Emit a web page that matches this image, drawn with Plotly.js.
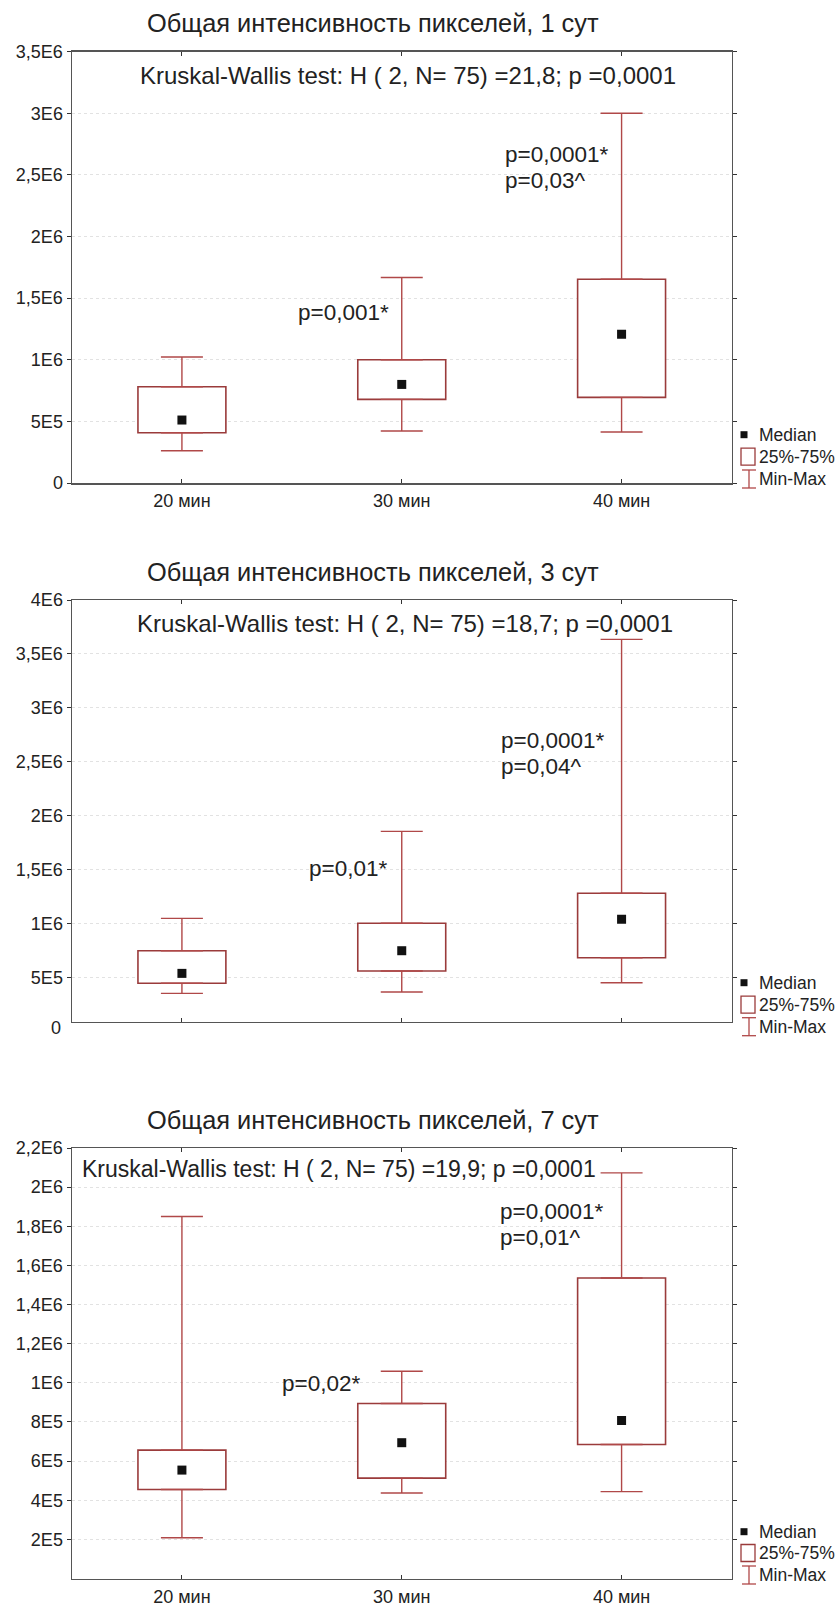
<!DOCTYPE html>
<html>
<head>
<meta charset="utf-8">
<script src="https://cdn.plot.ly/plotly-3.0.1.min.js"></script>
<style>html,body{margin:0;padding:0;background:#fff;}#chart{width:840px;height:1607px;}</style>
</head>
<body>
<div id="chart"></div>
<script>
// ---------- DATA ----------
const categories = ['20 мин', '30 мин', '40 мин'];

const day1Min    = [0.262e6, 0.422e6, 0.414e6];
const day1Q1     = [0.408e6, 0.679e6, 0.695e6];
const day1Median = [0.511e6, 0.800e6, 1.208e6];
const day1Q3     = [0.781e6, 1.000e6, 1.654e6];
const day1Max    = [1.022e6, 1.668e6, 3.000e6];

const day3Min    = [0.354e6, 0.366e6, 0.452e6];
const day3Q1     = [0.447e6, 0.561e6, 0.684e6];
const day3Median = [0.539e6, 0.749e6, 1.040e6];
const day3Q3     = [0.749e6, 1.003e6, 1.281e6];
const day3Max    = [1.049e6, 1.855e6, 3.635e6];

const day7Min    = [0.208e6, 0.437e6, 0.444e6];
const day7Q1     = [0.455e6, 0.513e6, 0.685e6];
const day7Median = [0.554e6, 0.694e6, 0.807e6];
const day7Q3     = [0.656e6, 0.894e6, 1.536e6];
const day7Max    = [1.850e6, 1.059e6, 2.073e6];

const chartTitles = ['Общая интенсивность пикселей, 1 сут',
                     'Общая интенсивность пикселей, 3 сут',
                     'Общая интенсивность пикселей, 7 сут'];
const kruskalTexts = ['Kruskal-Wallis test: H ( 2, N= 75) =21,8; p =0,0001',
                      'Kruskal-Wallis test: H ( 2, N= 75) =18,7; p =0,0001',
                      'Kruskal-Wallis test: H ( 2, N= 75) =19,9; p =0,0001'];
const p30Texts  = ['p=0,001*', 'p=0,01*', 'p=0,02*'];
const p40aTexts = ['p=0,0001*', 'p=0,0001*', 'p=0,0001*'];
const p40bTexts = ['p=0,03^', 'p=0,04^', 'p=0,01^'];
const legendLabels = ['Median', '25%-75%', 'Min-Max'];

const day1TickVals = [0, 0.5e6, 1e6, 1.5e6, 2e6, 2.5e6, 3e6, 3.5e6];
const day1TickText = ['0', '5E5', '1E6', '1,5E6', '2E6', '2,5E6', '3E6', '3,5E6'];
const day3TickVals = [0.5e6, 1e6, 1.5e6, 2e6, 2.5e6, 3e6, 3.5e6, 4e6];
const day3TickText = ['5E5', '1E6', '1,5E6', '2E6', '2,5E6', '3E6', '3,5E6', '4E6'];
const day7TickVals = [0.2e6, 0.4e6, 0.6e6, 0.8e6, 1e6, 1.2e6, 1.4e6, 1.6e6, 1.8e6, 2e6, 2.2e6];
const day7TickText = ['2E5', '4E5', '6E5', '8E5', '1E6', '1,2E6', '1,4E6', '1,6E6', '1,8E6', '2E6', '2,2E6'];

// ---------- LAYOUT HELPERS ----------
const W = 840, H = 1607;
const FONT = 'Liberation Sans, Arial, sans-serif';
const TXT = '#222';
const BOXC = '#9a3b3b';
const WHC = '#b04848';
const px = x => x / W;
const py = y => 1 - y / H;

const panels = [
  {min: day1Min, q1: day1Q1, med: day1Median, q3: day1Q3, max: day1Max,
   top: 51.7, bottom: 483, range: [0, 3.5e6], tv: day1TickVals, tt: day1TickText, xlabels: true,
   titleY: 23, kwX: 408, kwY: 76, kwSize: 24, p30: [296, 313], p40: [503, 154, 180],
   leg: [434.7, 456.7, 479]},
  {min: day3Min, q1: day3Q1, med: day3Median, q3: day3Q3, max: day3Max,
   top: 600, bottom: 1021.7, range: [0.091e6, 4e6], tv: day3TickVals, tt: day3TickText, xlabels: false,
   titleY: 571.7, kwX: 404.5, kwY: 623.3, kwSize: 24, p30: [307, 868.3], p40: [499, 740.7, 766.7],
   leg: [982.7, 1004.7, 1026.7], zeroLabel: 1027.7},
  {min: day7Min, q1: day7Q1, med: day7Median, q3: day7Q3, max: day7Max,
   top: 1148, bottom: 1578.5, range: [0, 2.2e6], tv: day7TickVals, tt: day7TickText, xlabels: true,
   titleY: 1119.6, kwX: 339, kwY: 1169, kwSize: 23, p30: [279.6, 1383.6], p40: [498, 1211.8, 1237],
   leg: [1531.7, 1553, 1575]}
];

const traces = [];
const annotations = [];
const shapes = [];
const layout = {
  width: W, height: H, autosize: false,
  margin: {l: 0, r: 0, t: 0, b: 0, pad: 0},
  paper_bgcolor: '#fff', plot_bgcolor: '#fff',
  showlegend: false,
  font: {family: FONT, color: TXT, size: 17},
  bargap: 0
};

function addText(x, y, text, size, anchor) {
  annotations.push({xref: 'paper', yref: 'paper', x: px(x), y: py(y),
    xanchor: anchor, yanchor: 'middle', showarrow: false,
    text: text, font: {size: size, color: TXT, family: FONT}});
}

panels.forEach((p, i) => {
  const n = i === 0 ? '' : String(i + 1);
  const xa = 'x' + n, ya = 'y' + n;

  // box 25%-75%
  traces.push({
    type: 'bar', x: categories, base: p.q1,
    y: p.q3.map((v, k) => v - p.q1[k]),
    width: 0.4, xaxis: xa, yaxis: ya, hoverinfo: 'skip',
    marker: {color: '#ffffff', line: {color: BOXC, width: 1.6}}
  });
  // upper whisker
  traces.push({
    type: 'scatter', mode: 'markers', x: categories, y: p.q3, xaxis: xa, yaxis: ya,
    marker: {size: 1, color: 'rgba(0,0,0,0)'}, hoverinfo: 'skip',
    error_y: {type: 'data', symmetric: false, array: p.max.map((v, k) => v - p.q3[k]),
              arrayminus: p.q3.map(() => 0), color: WHC, thickness: 1.4, width: 21}
  });
  // lower whisker
  traces.push({
    type: 'scatter', mode: 'markers', x: categories, y: p.q1, xaxis: xa, yaxis: ya,
    marker: {size: 1, color: 'rgba(0,0,0,0)'}, hoverinfo: 'skip',
    error_y: {type: 'data', symmetric: false, array: p.q1.map(() => 0),
              arrayminus: p.q1.map((v, k) => v - p.min[k]), color: WHC, thickness: 1.4, width: 21}
  });
  // median
  traces.push({
    type: 'scatter', mode: 'markers', x: categories, y: p.med, xaxis: xa, yaxis: ya,
    marker: {symbol: 'square', size: 9, color: '#111'}, hoverinfo: 'skip'
  });

  layout['xaxis' + n] = {
    type: 'category', range: [-0.5, 2.5], domain: [px(72), px(731.5)],
    anchor: ya, showline: true, mirror: 'ticks', linecolor: '#555', linewidth: 1.5,
    ticks: 'inside', ticklen: 4, tickcolor: '#333', showgrid: false, zeroline: false,
    showticklabels: p.xlabels, tickfont: {size: 18, color: TXT, family: FONT},
    ticklabelstandoff: 1, fixedrange: true
  };
  layout['yaxis' + n] = {
    range: p.range, domain: [py(p.bottom), py(p.top)], anchor: xa,
    showline: true, mirror: 'ticks', linecolor: '#555', linewidth: 1.5,
    ticks: 'outside', ticklen: 4, tickcolor: '#333',
    tickmode: 'array', tickvals: p.tv, ticktext: p.tt,
    tickfont: {size: 18, color: TXT, family: FONT},
    showgrid: true, gridcolor: '#e2e2e2', griddash: 'dot', gridwidth: 1,
    zeroline: false, fixedrange: true
  };

  addText(373, p.titleY, chartTitles[i], 25.4, 'center');
  addText(p.kwX, p.kwY, kruskalTexts[i], p.kwSize, 'center');
  addText(p.p30[0], p.p30[1], p30Texts[i], 22.5, 'left');
  addText(p.p40[0], p.p40[1], p40aTexts[i], 22.5, 'left');
  addText(p.p40[0], p.p40[2], p40bTexts[i], 22.5, 'left');
  if (p.zeroLabel) addText(63, p.zeroLabel, '0', 18, 'right');

  // legend
  const [ym, yb, yw] = p.leg;
  shapes.push({type: 'rect', xref: 'paper', yref: 'paper',
    x0: px(740.5), x1: px(747.5), y0: py(ym + 3.5), y1: py(ym - 3.5),
    fillcolor: '#111', line: {width: 0}});
  shapes.push({type: 'rect', xref: 'paper', yref: 'paper',
    x0: px(741), x1: px(755), y0: py(yb + 8.5), y1: py(yb - 8.5),
    fillcolor: '#fff', line: {color: BOXC, width: 1.3}});
  shapes.push({type: 'line', xref: 'paper', yref: 'paper',
    x0: px(749), x1: px(749), y0: py(yw + 9), y1: py(yw - 9), line: {color: WHC, width: 1.3}});
  shapes.push({type: 'line', xref: 'paper', yref: 'paper',
    x0: px(742), x1: px(756), y0: py(yw + 9), y1: py(yw + 9), line: {color: WHC, width: 1.3}});
  shapes.push({type: 'line', xref: 'paper', yref: 'paper',
    x0: px(742), x1: px(756), y0: py(yw - 9), y1: py(yw - 9), line: {color: WHC, width: 1.3}});
  [ym, yb, yw].forEach((yy, k) => addText(757, yy, legendLabels[k], 17.5, 'left'));
});

layout.annotations = annotations;
layout.shapes = shapes;

Plotly.newPlot('chart', traces, layout, {staticPlot: true, displayModeBar: false});
</script>
</body>
</html>
